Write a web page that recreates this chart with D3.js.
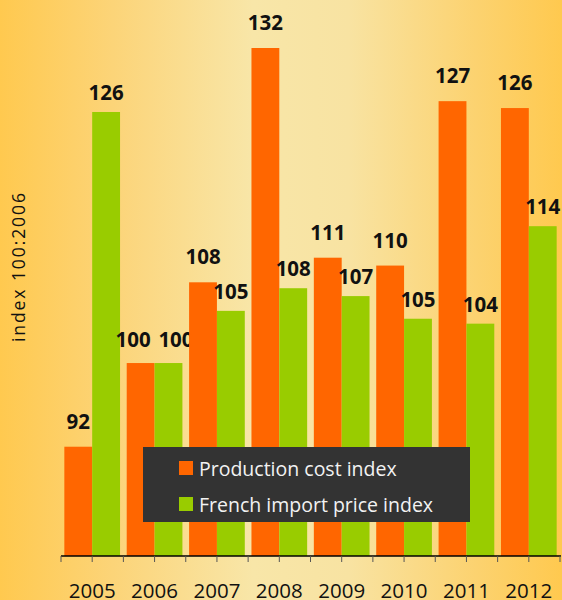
<!DOCTYPE html>
<html>
<head>
<meta charset="utf-8">
<script src="https://cdn.jsdelivr.net/npm/d3@7/dist/d3.min.js"></script>
<style>
  html, body { margin: 0; padding: 0; }
  svg { display: block; }
</style>
</head>
<body>
<svg id="chart" width="562" height="600"></svg>
<script>
const years = ["2005", "2006", "2007", "2008", "2009", "2010", "2011", "2012"];
const productionCost = [91.5, 100, 108.2, 132, 110.7, 109.9, 126.6, 125.9];
const importPrice = [125.5, 100, 105.3, 107.6, 106.8, 104.5, 104.0, 113.9];
const seriesNames = ["Production cost index", "French import price index"];
const yTitle = "index 100:2006";

const W = 562, H = 600;
const colors = ["#FF6600", "#99CC00"];
const svg = d3.select("#chart");

// background gradient
const defs = svg.append("defs");
const grad = defs.append("linearGradient").attr("id", "bg").attr("x1", "0%").attr("x2", "100%").attr("y1", "0%").attr("y2", "0%");
[[0, "#FFC94F"], [0.2, "#FCD478"], [0.45, "#F8E6A8"], [0.62, "#F8E3A2"], [0.85, "#FCD26F"], [1, "#FFC94F"]]
  .forEach(([o, c]) => grad.append("stop").attr("offset", o).attr("stop-color", c));
svg.append("rect").attr("width", W).attr("height", H).attr("fill", "url(#bg)");

const axisY = 556;
const x0 = d3.scaleBand().domain(years).range([61, 560]).paddingInner(0).paddingOuter(0);
const x1 = d3.scaleBand().domain([0, 1]).range([0, x0.bandwidth()]).paddingInner(0).paddingOuter(0.12);
const y = d3.scaleLinear().domain([80.4, 132]).range([axisY, 48]);

const data = years.map((yr, i) => ({ year: yr, vals: [productionCost[i], importPrice[i]] }));

const groups = svg.append("g").selectAll("g").data(data).join("g")
  .attr("transform", d => `translate(${x0(d.year)},0)`);

groups.selectAll("rect").data(d => d.vals.map((v, s) => ({ v, s }))).join("rect")
  .attr("x", d => x1(d.s))
  .attr("width", x1.bandwidth())
  .attr("y", d => y(d.v))
  .attr("height", d => axisY - y(d.v))
  .attr("fill", d => colors[d.s]);

// value labels
const labelOffset = [18, 12];
groups.each(function(d) {
  const g = d3.select(this);
  const same = Math.abs(Math.round(d.vals[0]) - Math.round(d.vals[1])) < 1;
  d.vals.forEach((v, s) => {
    const spread = same ? (s === 0 ? -7.5 : 7.5) : 0;
    g.append("text")
      .attr("x", x1(s) + x1.bandwidth() / 2 + spread)
      .attr("y", y(v) - (same ? 16 : labelOffset[s]))
      .attr("text-anchor", "middle")
      .attr("font-family", "'Open Sans', sans-serif")
      .attr("font-weight", "bold")
      .attr("font-size", "20.5px")
      .attr("fill", "#111")
      .text(Math.round(v));
  });
});

// x axis
const xAxis = svg.append("g");
xAxis.append("line").attr("x1", 61).attr("x2", 561).attr("y1", axisY).attr("y2", axisY)
  .attr("stroke", "#000").attr("stroke-width", 1.5);
const tickPos = [];
years.forEach(yr => { tickPos.push(x0(yr)); tickPos.push(x0(yr) + x0.bandwidth() / 2); });
tickPos.push(x0(years[years.length - 1]) + x0.bandwidth());
xAxis.selectAll("line.tick").data(tickPos).join("line").attr("class", "tick")
  .attr("x1", d => d).attr("x2", d => d).attr("y1", axisY).attr("y2", axisY + 6)
  .attr("stroke", "#555").attr("stroke-width", 1);
xAxis.selectAll("text").data(years).join("text")
  .attr("x", d => x0(d) + x0.bandwidth() / 2)
  .attr("y", 598)
  .attr("text-anchor", "middle")
  .attr("font-family", "'Open Sans', sans-serif")
  .attr("font-size", "20.5px")
  .attr("fill", "#111")
  .text(d => d);

// y title
svg.append("text")
  .attr("transform", "translate(25,267.5) rotate(-90)")
  .attr("text-anchor", "middle")
  .attr("font-family", "'Open Sans', sans-serif")
  .attr("font-size", "17.5px")
  .attr("textLength", 149)
  .attr("lengthAdjust", "spacing")
  .attr("fill", "#111")
  .text(yTitle);

// legend
const lg = svg.append("g");
lg.append("rect").attr("x", 143).attr("y", 447).attr("width", 327).attr("height", 75).attr("fill", "#333333");
seriesNames.forEach((name, i) => {
  lg.append("rect").attr("x", 179).attr("y", 461 + i * 36).attr("width", 14).attr("height", 14).attr("fill", colors[i]);
  lg.append("text").attr("x", 199).attr("y", 476 + i * 35.5)
    .attr("font-family", "'Open Sans', sans-serif")
    .attr("font-size", "19.5px")
    .attr("fill", "#F2F2F2")
    .text(name);
});
</script>
</body>
</html>
